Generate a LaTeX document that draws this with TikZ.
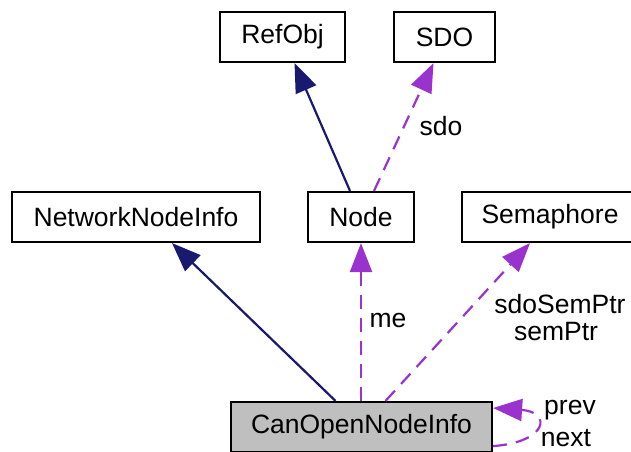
\documentclass[tikz,border=0pt]{standalone}
\usepackage{fontspec}
\setmainfont{Liberation Sans}
\usetikzlibrary{arrows.meta}
\definecolor{navyc}{HTML}{191970}
\definecolor{purpc}{HTML}{9A32CD}
\definecolor{grayc}{HTML}{BFBFBF}
\begin{document}
\begin{tikzpicture}[x=1pt,y=-1pt,
  font=\fontsize{26.5}{31}\selectfont,
  cls/.style={draw=black,line width=2.2pt,fill=white,minimum height=50pt,inner sep=0pt,anchor=center},
  inh/.style={draw=navyc,line width=2.2pt,-{Triangle[length=29pt,width=22pt,fill=navyc]}},
  use/.style={draw=purpc,line width=2.2pt,dash pattern=on 14pt off 9pt,-{Triangle[length=29pt,width=22pt,fill=purpc]}},
  lbl/.style={inner sep=0pt,anchor=center}]
\clip (0,0) rectangle (631,451);
\fill[white] (0,0) rectangle (631,451);
\node[cls,minimum width=125pt] (refobj) at (282.5,37) {RefObj};
\node[cls,minimum width=101pt] (sdo) at (444.5,37) {SDO};
\node[cls,minimum width=248pt] (nni) at (136,217) {NetworkNodeInfo};
\node[cls,minimum width=106pt] (nd) at (361,217) {Node};
\node[cls,minimum width=176pt] (sem) at (550,217) {Semaphore};
\node[cls,fill=grayc,minimum width=261pt] (can) at (361.5,427) {CanOpenNodeInfo};
\draw[inh] ([xshift=-11pt]nd.north) -- ([xshift=12pt]refobj.south);
\draw[use] ([xshift=13pt]nd.north) -- ([xshift=-11pt]sdo.south);
\draw[inh] ([xshift=-26pt]can.north) -- ([xshift=36pt]nni.south);
\draw[use] (nd.south |- can.north) -- (nd.south);
\draw[use] ([xshift=24pt]can.north) -- ([xshift=-20pt]sem.south);
\draw[use] ([yshift=7pt]can.south east) .. controls (548,442) and (552,412) .. ([yshift=19pt]can.east);
\node[lbl] (lsdo) at (441,126) {sdo};
\node[lbl] (lme) at (388,320) {me};
\node[lbl] (lsem1) at (560,304) {sdoSemPtr};
\node[lbl] (lsem2) at (556,332) {semPtr};
\node[lbl] (lprev) at (570,410) {prev};
\node[lbl] (lnext) at (566,438) {next};
\end{tikzpicture}
\end{document}
